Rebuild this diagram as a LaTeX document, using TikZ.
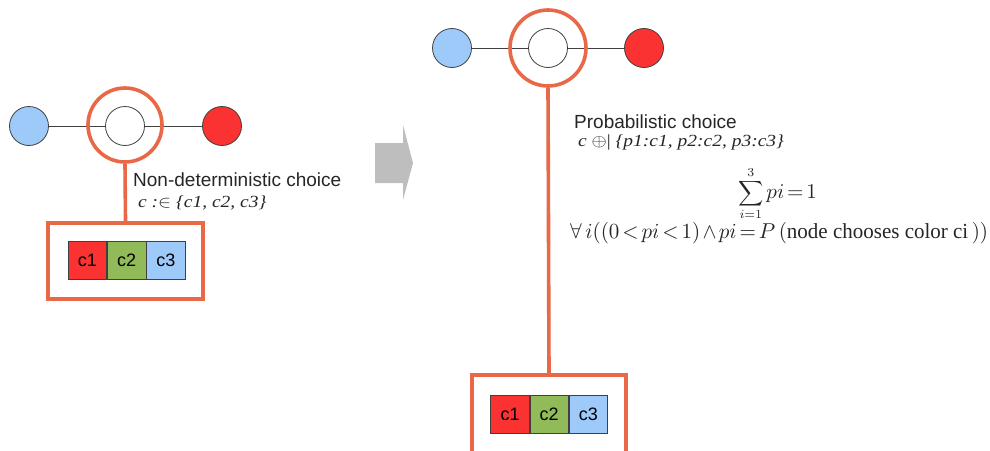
\documentclass[tikz,border=0pt]{standalone}
\usepackage{graphicx}
\usepackage{fontspec}
\setmainfont{Liberation Serif}
\setsansfont{Liberation Sans}
\usetikzlibrary{positioning}
\definecolor{ored}{RGB}{232,104,72}
\definecolor{lblue}{RGB}{158,202,250}
\definecolor{lred}{RGB}{250,50,50}
\definecolor{lgreen}{RGB}{145,186,88}
\definecolor{arrgray}{RGB}{190,190,190}
\tikzset{
  dot/.style={circle, draw=black!75, line width=0.8pt, minimum size=39pt, inner sep=0pt},
  ring/.style={circle, draw=ored, line width=3.6pt, minimum size=74pt, inner sep=0pt},
  edge/.style={draw=black!75, line width=0.8pt},
  oline/.style={draw=ored, line width=3.6pt},
  obox/.style={draw=ored, line width=3.6pt, rectangle, inner sep=0pt},
  cell/.style={draw=black!75, line width=0.7pt, rectangle, minimum width=38.5pt, minimum height=38pt, inner sep=0pt, font=\sffamily\fontsize{18}{20}\selectfont},
  lab/.style={inner sep=0pt, anchor=base west, text=black!85},
}
\begin{document}
\begin{tikzpicture}[x=1pt,y=-1pt]
\useasboundingbox (0,0) rectangle (990,450);
\clip (0,0) rectangle (990,450);
% left graph
\node[dot, fill=lblue] (b1) at (29,126) {};
\node[dot, fill=white] (w1) at (125,126) {};
\node[dot, fill=lred] (r1) at (222,126) {};
\draw[edge] (b1) -- (w1);
\draw[edge] (w1) -- (r1);
\node[ring] (o1) at (125,125) {};
\node[obox, minimum width=155pt, minimum height=76pt] (box1) at (125.5,261) {};
\draw[oline] (o1.south) -- (box1.north);
\node[cell, fill=lred] (c11) at (87.5,260) {c1};
\node[cell, fill=lgreen, right=0pt of c11] (c12) {c2};
\node[cell, fill=lblue, right=0pt of c12] (c13) {c3};
\node[lab, font=\sffamily\fontsize{19}{22}\selectfont] (t1) at (133,186) {Non-deterministic choice};
\node[lab] (t2) at (138,207) {\scalebox{1.95}[1.7]{\textit{c :}$\in$ \textit{\{c1, c2, c3\}}}};
% arrow
\path[fill=arrgray] (375,143) -- (403,143) -- (403,125) -- (413,163) -- (403,200) -- (403,183) -- (375,183) -- cycle;
% right graph
\node[dot, fill=lblue] (b2) at (452,48) {};
\node[dot, fill=white] (w2) at (548,48) {};
\node[dot, fill=lred] (r2) at (644,48) {};
\draw[edge] (b2) -- (w2);
\draw[edge] (w2) -- (r2);
\node[ring, minimum size=76pt] (o2) at (548,48) {};
\node[obox, minimum width=154pt, minimum height=100pt] (box2) at (549,425) {};
\draw[oline] (o2.south) -- (box2.north);
\node[cell, fill=lred] (c21) at (510,414) {c1};
\node[cell, fill=lgreen, right=0pt of c21] (c22) {c2};
\node[cell, fill=lblue, right=0pt of c22] (c23) {c3};
\node[lab, font=\sffamily\fontsize{19}{22}\selectfont] (t3) at (574,128) {Probabilistic choice};
\node[lab] (t4) at (578,146) {\scalebox{1.95}[1.7]{\textit{c} $\oplus$| \textit{\{p1:c1, p2:c2, p3:c3\}}}};
\node[lab] (t5) at (738,198) {\scalebox{1.75}{$\displaystyle\sum_{i=1}^{3}$}\hspace{3pt}\scalebox{2.1}{\thickmuskip=2.5mu$pi=1$}};
\node[lab] (t6) at (570,238) {\scalebox{2.1}[2.15]{\thickmuskip=2.5mu\medmuskip=2mu$\forall\, i((0<pi<1)\wedge pi=P\,(\mathrm{node\ chooses\ color\ ci}\,))$}};
\end{tikzpicture}
\end{document}
